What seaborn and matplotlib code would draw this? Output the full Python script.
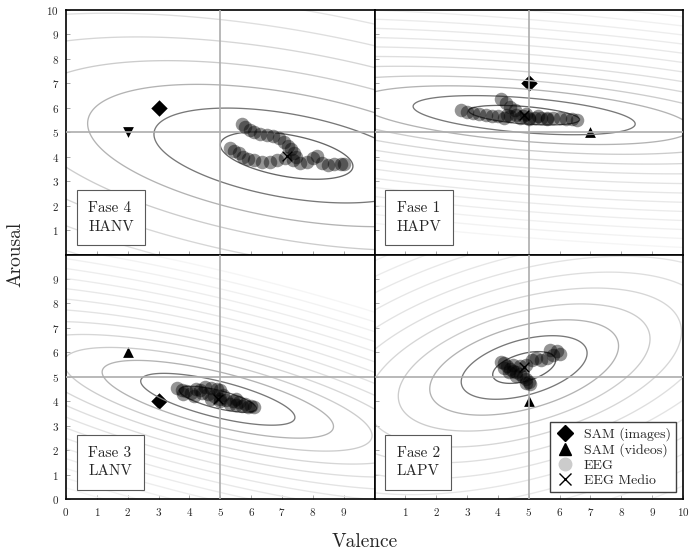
import numpy as np
import matplotlib
matplotlib.use('Agg')
import matplotlib.pyplot as plt
import seaborn as sns
from matplotlib.lines import Line2D

# panel order: top-left, top-right, bottom-left, bottom-right
panel_names = ['Fase 4\nHANV', 'Fase 1\nHAPV', 'Fase 3\nLANV', 'Fase 2\nLAPV']

# SAM ratings (valence, arousal), None = not shown
sam_img_x = [3, 5, 3, None]
sam_img_y = [6, 7, 4, None]
sam_vid_x = [2, 7, 2, 5]
sam_vid_y = [5, 5, 6, 4]
sam_vid_marker = ['v', '^', '^', '^']

# EEG mean per phase
eeg_mean_x = [7.15, 4.85, 4.92, 4.85]
eeg_mean_y = [4.05, 5.7, 4.08, 5.38]

# gaussian fit of the EEG estimates: sd valence, sd arousal, correlation
gauss_sx = [2.15, 1.8, 1.25, 1.02]
gauss_sy = [0.97, 0.4, 0.53, 0.65]
gauss_rho = [-0.45, -0.45, -0.7, 0.45]

# EEG estimates per phase
eeg4_x = [5.7, 5.8, 5.95, 6.1, 6.3, 6.5, 6.7, 6.9, 7.05, 7.2, 7.3, 7.4, 7.45, 5.3, 5.45, 5.6, 5.75,
          5.9, 6.1, 6.35, 6.6, 6.85, 7.1, 7.35, 7.6, 7.8, 8.0, 8.15, 8.3, 8.5, 8.7, 8.9, 9.0]
eeg4_y = [5.35, 5.2, 5.1, 5.0, 4.95, 4.9, 4.85, 4.75, 4.6, 4.45, 4.3, 4.15, 4.0, 4.35, 4.25, 4.15, 4.0,
          3.9, 3.85, 3.8, 3.78, 3.85, 3.95, 3.85, 3.75, 3.8, 3.95, 4.05, 3.75, 3.65, 3.7, 3.7, 3.72]
eeg1_x = [2.8, 3.0, 3.2, 3.4, 3.6, 3.8, 4.0, 4.1, 4.25, 4.4, 4.55, 4.2, 4.4, 4.6, 4.8, 5.0, 5.2, 5.4,
          5.6, 5.8, 6.0, 6.2, 6.4, 6.55, 4.3, 4.7, 5.0, 5.3, 5.6, 4.9]
eeg1_y = [5.9, 5.85, 5.8, 5.75, 5.7, 5.65, 5.65, 6.35, 6.2, 6.05, 5.9, 5.6, 5.65, 5.7, 5.65, 5.6, 5.6, 5.6,
          5.6, 5.6, 5.6, 5.55, 5.55, 5.5, 5.7, 5.6, 5.55, 5.65, 5.55, 5.75]
eeg3_x = [3.6, 3.75, 3.9, 4.05, 4.2, 4.35, 4.5, 4.7, 4.9, 5.0, 4.6, 4.8, 5.0, 5.2, 5.4, 5.6, 5.8, 6.0,
          6.1, 4.7, 5.0, 5.3, 5.5, 5.7, 5.9, 4.4, 5.1, 5.5, 4.15, 3.8]
eeg3_y = [4.55, 4.45, 4.4, 4.35, 4.5, 4.45, 4.6, 4.55, 4.5, 4.45, 4.3, 4.2, 4.1, 4.05, 4.0, 3.95, 3.9, 3.8,
          3.75, 4.1, 4.0, 3.9, 3.85, 3.8, 3.78, 4.35, 4.25, 4.1, 4.2, 4.3]
eeg2_x = [4.1, 4.2, 4.3, 4.2, 4.4, 4.5, 4.6, 4.7, 4.8, 4.9, 5.0, 5.05, 4.9, 4.5, 4.7, 4.9, 5.1, 5.25,
          5.4, 5.6, 5.8, 5.9, 6.0, 5.7, 4.35, 4.6]
eeg2_y = [5.6, 5.55, 5.45, 5.35, 5.3, 5.25, 5.2, 5.1, 5.0, 4.9, 4.8, 4.7, 4.75, 5.5, 5.45, 5.5, 5.7, 5.75,
          5.7, 5.75, 5.9, 6.05, 5.95, 6.1, 5.2, 5.05]
eeg_x = [eeg4_x, eeg1_x, eeg3_x, eeg2_x]
eeg_y = [eeg4_y, eeg1_y, eeg3_y, eeg2_y]

# contour levels (mahalanobis distance) and their grey
levels = [1, 2, 3, 4, 5, 6, 7, 8, 9, 10, 11, 12, 13, 14]
level_grey = ['0.4', '0.47', '0.7', '0.8', '0.84', '0.87', '0.89', '0.9', '0.91', '0.92', '0.93',
              '0.94', '0.95', '0.96']

sns.set_style('white')
plt.rcParams['font.family'] = ['cmr10', 'DejaVu Serif']
plt.rcParams['axes.formatter.use_mathtext'] = True
plt.rcParams['mathtext.fontset'] = 'cm'

fig, axes = plt.subplots(2, 2, figsize=(6.9, 5.58), dpi=100)
plt.subplots_adjust(left=0.0957, right=0.9899, top=0.982, bottom=0.1057, wspace=0, hspace=0)
axes = axes.ravel()

gx, gy = np.meshgrid(np.linspace(-6, 16, 500), np.linspace(-6, 16, 500))

for i, ax in enumerate(axes):
    # SAM markers (below the lines, as in the original)
    if sam_img_x[i] is not None:
        sns.scatterplot(x=[sam_img_x[i]], y=[sam_img_y[i]], ax=ax, marker='D', s=70, color='k',
                        linewidth=0, legend=False, zorder=1)
    sns.scatterplot(x=[sam_vid_x[i]], y=[sam_vid_y[i]], ax=ax, marker=sam_vid_marker[i], s=60,
                    color='k', linewidth=0, legend=False, zorder=1)

    # gaussian ellipses
    dx = (gx - eeg_mean_x[i]) / gauss_sx[i]
    dy = (gy - eeg_mean_y[i]) / gauss_sy[i]
    r = gauss_rho[i]
    d = np.sqrt((dx ** 2 - 2 * r * dx * dy + dy ** 2) / (1 - r ** 2))
    ax.contour(gx, gy, d, levels=levels, colors=level_grey, linewidths=0.95, zorder=2)

    ax.axvline(5, color='0.68', lw=1.2, zorder=3)
    ax.axhline(5, color='0.68', lw=1.2, zorder=3)

    sns.scatterplot(x=[eeg_mean_x[i]], y=[eeg_mean_y[i]], ax=ax, marker='x', s=50, color='k',
                    linewidth=1.0, legend=False, zorder=3.5)
    sns.scatterplot(x=eeg_x[i], y=eeg_y[i], ax=ax, color='k', alpha=0.42, s=95, linewidth=0,
                    legend=False, zorder=4)

    ax.text(0.072, 0.085, panel_names[i], transform=ax.transAxes, fontsize=11, linespacing=1.45,
            va='bottom', ha='left', zorder=6,
            bbox=dict(boxstyle='square,pad=0.75', fc='white', ec='0.35', lw=0.8))

    ax.set_xlim(0, 10)
    ax.set_ylim(0, 10)
    ax.set_xlabel('')
    ax.set_ylabel('')
    for sp in ax.spines.values():
        sp.set_color('k')
        sp.set_linewidth(1.2)
    ax.tick_params(direction='in', length=3, width=0.6, color='0.6', labelsize=8, pad=5,
                   left=True, bottom=True)

axes[0].set_xticks(range(1, 10))
axes[0].set_yticks(range(1, 11))
axes[0].tick_params(labelbottom=False)
axes[1].set_xticks(range(1, 10))
axes[1].set_yticks(range(1, 10))
axes[1].tick_params(labelbottom=False, labelleft=False)
axes[2].set_xticks(range(0, 10))
axes[2].set_yticks(range(0, 10))
axes[3].set_xticks(range(1, 11))
axes[3].set_yticks(range(1, 10))
axes[3].tick_params(labelleft=False)

handles = [
    Line2D([], [], marker='D', color='k', ls='none', markersize=8),
    Line2D([], [], marker='^', color='k', ls='none', markersize=8),
    Line2D([], [], marker='o', color='0.8', ls='none', markersize=9),
    Line2D([], [], marker='x', color='k', ls='none', markersize=8),
]
leg = axes[3].legend(handles, ['SAM (images)', 'SAM (videos)', 'EEG', 'EEG Medio'], loc='lower right',
                     fontsize=10, frameon=True, fancybox=False, edgecolor='0.25', framealpha=1,
                     borderaxespad=0.5, labelspacing=0.15, handletextpad=0.7, borderpad=0.4,
                     handlelength=1.3)
leg.get_frame().set_linewidth(1.0)
leg.set_zorder(7)

fig.text(0.529, 0.028, 'Valence', fontsize=14, ha='center', va='center')
fig.text(0.022, 0.545, 'Arousal', fontsize=14, ha='center', va='center', rotation=90)

fig.savefig('out.png', dpi=100)
